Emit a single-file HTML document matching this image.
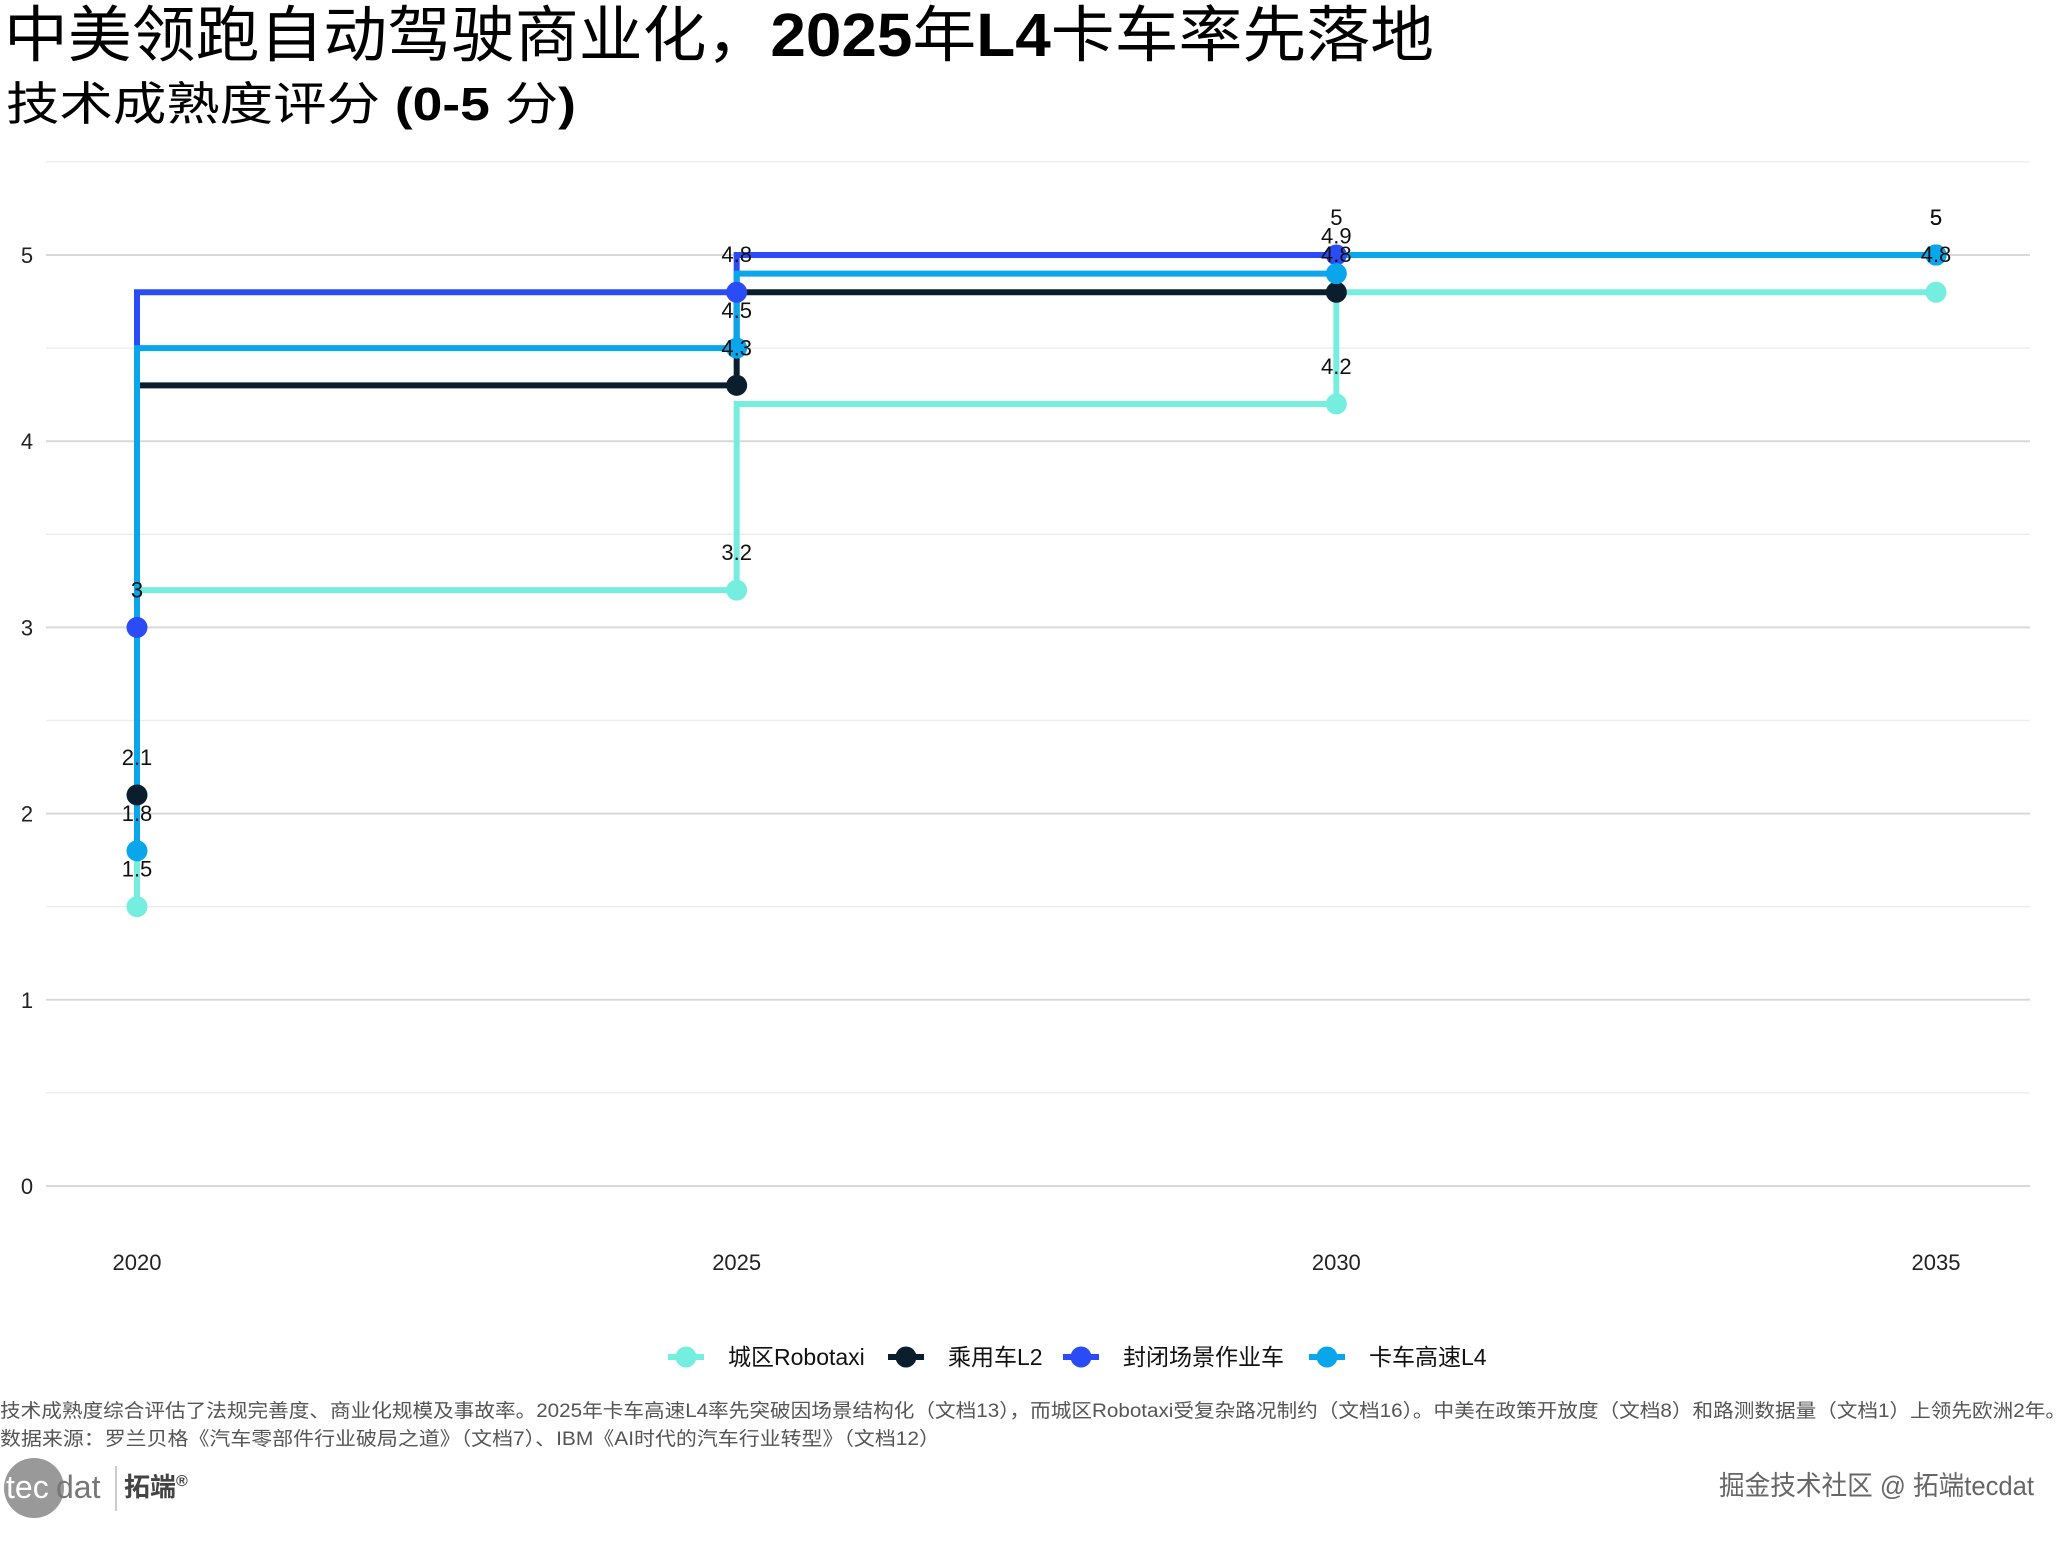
<!DOCTYPE html>
<html><head><meta charset="utf-8">
<style>
body{margin:0;background:#fff;}
svg text{font-family:"Liberation Sans","Noto Sans CJK SC",sans-serif;}
</style></head>
<body>
<svg id="chart" width="2070" height="1539" viewBox="0 0 2070 1539" xmlns="http://www.w3.org/2000/svg">
<rect width="2070" height="1539" fill="#fff"/>
<text x="4" y="56" font-size="61" fill="#000" textLength="1430" lengthAdjust="spacingAndGlyphs">中美领跑自动驾驶商业化，<tspan font-weight="bold">2025</tspan>年<tspan font-weight="bold">L4</tspan>卡车率先落地</text>
<text x="6" y="120" font-size="46" fill="#000" textLength="570" lengthAdjust="spacingAndGlyphs">技术成熟度评分 <tspan font-weight="bold">(0-5 </tspan> 分<tspan font-weight="bold">)</tspan></text>
<g id="grid"></g>
<g id="series"></g>
<g id="legend"></g>
<text x="0" y="1417" font-size="19" fill="#555" textLength="2066" lengthAdjust="spacingAndGlyphs">技术成熟度综合评估了法规完善度、商业化规模及事故率。2025年卡车高速L4率先突破因场景结构化（文档13），而城区Robotaxi受复杂路况制约（文档16）。中美在政策开放度（文档8）和路测数据量（文档1）上领先欧洲2年。</text>
<text x="0" y="1445" font-size="19" fill="#555" textLength="940" lengthAdjust="spacingAndGlyphs">数据来源：罗兰贝格《汽车零部件行业破局之道》（文档7）、IBM《AI时代的汽车行业转型》（文档12）</text>
<g>
<circle cx="34" cy="1488" r="30" fill="#999"/>
<text x="6" y="1498" font-size="32" fill="#fff">tec</text>
<text x="56" y="1498" font-size="32" fill="#777">dat</text>
<line x1="116" y1="1466" x2="116" y2="1511" stroke="#bbb" stroke-width="1.5"/>
<text x="124" y="1496" font-size="26" font-weight="bold" fill="#444">拓端<tspan font-size="16" dy="-10">®</tspan></text>
</g>
<text x="2034" y="1495" font-size="27" fill="#666" text-anchor="end" textLength="315" lengthAdjust="spacingAndGlyphs">掘金技术社区 @ 拓端tecdat</text>
</svg>
<script>
const years = [2020, 2025, 2030, 2035];
const seriesNames = ["城区Robotaxi", "乘用车L2", "封闭场景作业车", "卡车高速L4"];
const robotaxi = [1.5, 3.2, 4.2, 4.8];
const l2 = [2.1, 4.3, 4.8, 5];
const closedSite = [3, 4.8, 5, 5];
const truckL4 = [1.8, 4.5, 4.9, 5];
const yTicks = [0, 1, 2, 3, 4, 5];
const colors = ["#76EEDF", "#0B1E2E", "#2A4BF5", "#0AA6EB"];
const allSeries = [robotaxi, l2, closedSite, truckL4];

const NS = "http://www.w3.org/2000/svg";
const xS = v => 137 + (v - 2020) / 15 * (1936 - 137);
const yS = v => 1186 - v * (1186 - 255) / 5;
function mk(tag, attrs, parent){const e=document.createElementNS(NS,tag);for(const k in attrs)e.setAttribute(k,attrs[k]);parent.appendChild(e);return e;}

const grid = document.getElementById("grid");
for (let v = 0; v <= 5.5; v += 0.5) {
  const l = mk("line",{x1:46,x2:2030,y1:yS(v),y2:yS(v),stroke:Number.isInteger(v)?"#d9d9d9":"#ececec","stroke-width":Number.isInteger(v)?2:1.3},grid);
  
  
}
yTicks.forEach(t => {
  const e = mk("text",{x:27,y:yS(t)+8,"font-size":22,"text-anchor":"middle",fill:"#222"},grid);
  e.textContent = t;
  
  
});
years.forEach(y => {
  const e = mk("text",{x:xS(y),y:1270,"font-size":22,"text-anchor":"middle",fill:"#222"},grid);
  e.textContent = y;
  
  
});

const sg = document.getElementById("series");
allSeries.forEach((vals, si) => {
  let d = "M" + xS(years[0]) + " " + yS(vals[0]);
  for (let i = 1; i < vals.length; i++) {
    d += " L" + xS(years[i-1]) + " " + yS(vals[i]) + " L" + xS(years[i]) + " " + yS(vals[i]);
  }
  const p = mk("path",{d:d,fill:"none",stroke:colors[si],"stroke-width":6},sg);
  
  
});
allSeries.forEach((vals, si) => {
  vals.forEach((v, i) => {
    const c = mk("circle",{cx:xS(years[i]),cy:yS(v),r:10.5,fill:colors[si]},sg);
    
    
  });
});
allSeries.forEach((vals, si) => {
  vals.forEach((v, i) => {
    const t = mk("text",{x:xS(years[i]),y:yS(v)-30,"font-size":22,"text-anchor":"middle",fill:"#111"},sg);
    t.textContent = v;
    
    
  });
});

const lg = document.getElementById("legend");
const lx = [686, 906, 1081, 1327];
seriesNames.forEach((n, i) => {
  const g = mk("g",{},lg);
  
  
  mk("line",{x1:lx[i]-18,x2:lx[i]+18,y1:1357,y2:1357,stroke:colors[i],"stroke-width":6},g);
  mk("circle",{cx:lx[i],cy:1357,r:10.5,fill:colors[i]},g);
  const t = mk("text",{x:lx[i]+42,y:1365,"font-size":23,fill:"#111"},g);
  t.textContent = n;
});
</script>
</body></html>
